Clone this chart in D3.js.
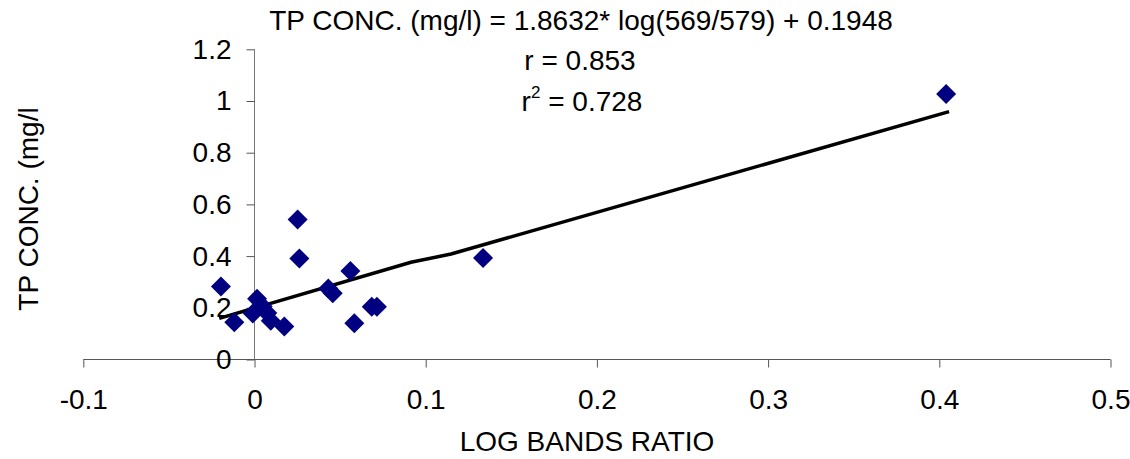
<!DOCTYPE html>
<html>
<head>
<meta charset="utf-8">
<script src="https://cdn.jsdelivr.net/npm/d3@7"></script>
<style>
  html, body { margin: 0; padding: 0; background: #fff; }
  svg { display: block; font-family: "Liberation Sans", Arial, sans-serif; }
</style>
</head>
<body>
<svg id="chart" width="1130" height="459"></svg>
<script>
// ---- data ----
const pointX = [-0.0196, -0.0118, 0.0015, -0.001, 0.0048, 0.0095, 0.0075, 0.0174, 0.0252, 0.0262, 0.0431, 0.0457, 0.056, 0.0583, 0.0685, 0.0715, 0.1335, 0.404];
const pointY = [0.282, 0.144, 0.235, 0.178, 0.205, 0.150, 0.180, 0.128, 0.542, 0.391, 0.275, 0.256, 0.342, 0.140, 0.204, 0.204, 0.393, 1.027];
const fitX = [-0.0206, 0.0914, 0.1148, 0.4057];
const fitY = [0.159, 0.376, 0.408, 0.959];
const xTicks = [-0.1, 0, 0.1, 0.2, 0.3, 0.4, 0.5];
const yTicks = [0, 0.2, 0.4, 0.6, 0.8, 1, 1.2];
const xTickLabels = ["-0.1", "0", "0.1", "0.2", "0.3", "0.4", "0.5"];
const yTickLabels = ["0", "0.2", "0.4", "0.6", "0.8", "1", "1.2"];
const titleLines = ["TP CONC. (mg/l) = 1.8632* log(569/579) + 0.1948", "r = 0.853", "r2 = 0.728"];
const xLabel = "LOG BANDS RATIO";
const yLabel = "TP CONC. (mg/l";

// ---- layout ----
const svg = d3.select("#chart");
const x = d3.scaleLinear().domain([-0.1, 0.5]).range([83.3, 1110.5]);
const y = d3.scaleLinear().domain([0, 1.2]).range([359.5, 49.3]);
const fontSize = 28;
const ff = "Liberation Sans, Arial, sans-serif";

// x axis at y=0
const xAxis = svg.append("g")
  .attr("transform", `translate(0,${y(0)})`)
  .call(d3.axisBottom(x).tickValues(xTicks).tickSize(8).tickPadding(22)
    .tickFormat((d, i) => xTickLabels[i]));
xAxis.select(".domain").attr("d", `M${x(-0.1)},0H${x(0.5)}`).attr("stroke", "#555");
xAxis.selectAll(".tick line").attr("stroke", "#555");
xAxis.selectAll("text").attr("font-size", fontSize).attr("fill", "#000").attr("font-family", ff);

// y axis at x=0
const yAxis = svg.append("g")
  .attr("transform", `translate(${x(0)},0)`)
  .call(d3.axisLeft(y).tickValues(yTicks).tickSize(8).tickPadding(15)
    .tickFormat((d, i) => yTickLabels[i]));
yAxis.select(".domain").attr("d", `M0,${y(1.2)}V${y(0)}`).attr("stroke", "#777");
yAxis.selectAll(".tick line").attr("stroke", "#555");
yAxis.selectAll("text").attr("font-size", fontSize).attr("fill", "#000").attr("font-family", ff);

// fitted line
const lineGen = d3.line().x(d => x(d[0])).y(d => y(d[1]));
svg.append("path")
  .datum(fitX.map((v, i) => [v, fitY[i]]))
  .attr("d", lineGen)
  .attr("fill", "none")
  .attr("stroke", "#000")
  .attr("stroke-width", 3.5)
  .attr("stroke-linejoin", "round");

// points (diamonds)
const diamond = d3.symbol().type(d3.symbolSquare).size(200);
svg.append("g").selectAll("path")
  .data(pointX.map((v, i) => [v, pointY[i]]))
  .join("path")
  .attr("d", diamond)
  .attr("transform", d => `translate(${x(d[0])},${y(d[1])}) rotate(45)`)
  .attr("fill", "#000080");

// annotation text
const t = svg.append("g").attr("font-size", fontSize).attr("fill", "#000").attr("text-anchor", "middle");
t.append("text").attr("x", 581).attr("y", 30).text(titleLines[0]);
t.append("text").attr("x", 580).attr("y", 70).text(titleLines[1]);
const r2 = t.append("text").attr("x", 582).attr("y", 111);
r2.append("tspan").text("r");
r2.append("tspan").attr("font-size", 17).attr("dy", -13).text("2");
r2.append("tspan").attr("dy", 13).text(" = 0.728");

// axis titles
svg.append("text").attr("x", 587).attr("y", 451).attr("text-anchor", "middle")
  .attr("font-size", fontSize).text(xLabel);
svg.append("text").attr("transform", `translate(37.5,209) rotate(-90)`).attr("text-anchor", "middle")
  .attr("font-size", fontSize).text(yLabel);
</script>
</body>
</html>
